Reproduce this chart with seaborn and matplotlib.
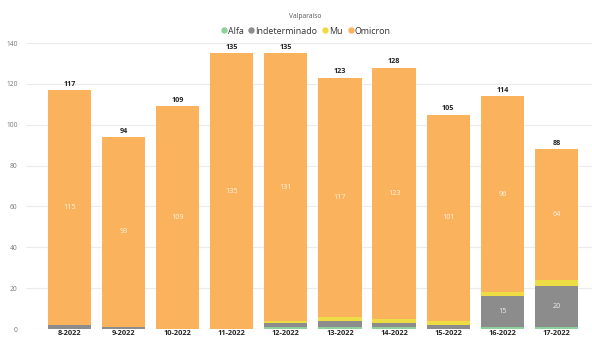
import matplotlib
matplotlib.use("Agg")
import matplotlib.pyplot as plt
from matplotlib.lines import Line2D
import numpy as np
import pandas as pd
import seaborn as sns

# Weekly variant counts, Valparaíso
weeks = ["8-2022", "9-2022", "10-2022", "11-2022", "12-2022",
         "13-2022", "14-2022", "15-2022", "16-2022", "17-2022"]
alfa = [0, 0, 0, 0, 1, 1, 1, 0, 1, 1]
indeterminado = [2, 1, 0, 0, 2, 3, 2, 2, 15, 20]
mu = [0, 0, 0, 0, 1, 2, 2, 2, 2, 3]
omicron = [115, 93, 109, 135, 131, 117, 123, 101, 96, 64]

series_names = ["Alfa", "Indeterminado", "Mu", "Omicron"]
series_values = [alfa, indeterminado, mu, omicron]
colors = ["#8FD19B", "#8C8C8C", "#EEDC45", "#FBB25C"]

sns.set_theme(style="white")
plt.rcParams["font.family"] = ["Open Sans", "DejaVu Sans"]

df = pd.DataFrame({"week": weeks})
cum = np.zeros(len(weeks))
cums = []
for vals in series_values:
    cum = cum + np.array(vals)
    cums.append(cum.copy())
totals = cums[-1]

fig = plt.figure(figsize=(5.92, 3.37), dpi=100)
ax = fig.add_axes([26 / 592, 8 / 337, 566 / 592, 286 / 337])

# stacked bars: draw cumulative heights from the top series down
for name, c, col in reversed(list(zip(series_names, cums, colors))):
    d = df.assign(value=c)
    sns.barplot(data=d, x="week", y="value", color=col, width=0.8,
                saturation=1, ax=ax, zorder=2, linewidth=0)

# value labels inside segments (Omicron always, others when large enough)
bottoms = np.zeros(len(weeks))
for name, vals in zip(series_names, series_values):
    for i, v in enumerate(vals):
        if v >= 10:
            ax.text(i, bottoms[i] + v / 2, f"{v}", ha="center", va="center",
                    color="white", alpha=0.85, fontsize=5.2, zorder=4)
    bottoms = bottoms + np.array(vals)

# totals above bars
for i, t in enumerate(totals):
    ax.text(i, t + 1.2, f"{int(t)}", ha="center", va="bottom",
            color="#252525", fontsize=5.2, fontweight="bold", zorder=4)

ax.set_ylim(0, 140)
ax.set_xlim(-0.8, len(weeks) - 1 + 0.656)
ax.set_yticks(range(0, 141, 20))
ax.yaxis.grid(True, color="#EBEBEB", linewidth=0.8, zorder=0)
ax.set_axisbelow(True)
for s in ax.spines.values():
    s.set_visible(False)
ax.set_xlabel("")
ax.set_ylabel("")
ax.tick_params(axis="y", length=0, pad=6, labelsize=4.8, labelcolor="#777777")
ax.tick_params(axis="x", length=0, pad=0.6, labelsize=5.3, labelcolor="#252525")
for lbl in ax.get_xticklabels():
    lbl.set_fontweight("bold")

fig.text(0.515, 0.952, "Valparaíso", ha="center", va="center",
         fontsize=4.8, color="#555555")

handles = [Line2D([0], [0], marker="o", linestyle="", markersize=3.6,
                  markerfacecolor=c, markeredgecolor=c) for c in colors]
fig.legend(handles, series_names, loc="center", bbox_to_anchor=(0.516, 0.908),
           ncol=4, frameon=False, fontsize=6.4, handletextpad=0.05,
           columnspacing=0.5, handlelength=0.8, labelcolor="#333333")

fig.savefig("out.png", dpi=100)
